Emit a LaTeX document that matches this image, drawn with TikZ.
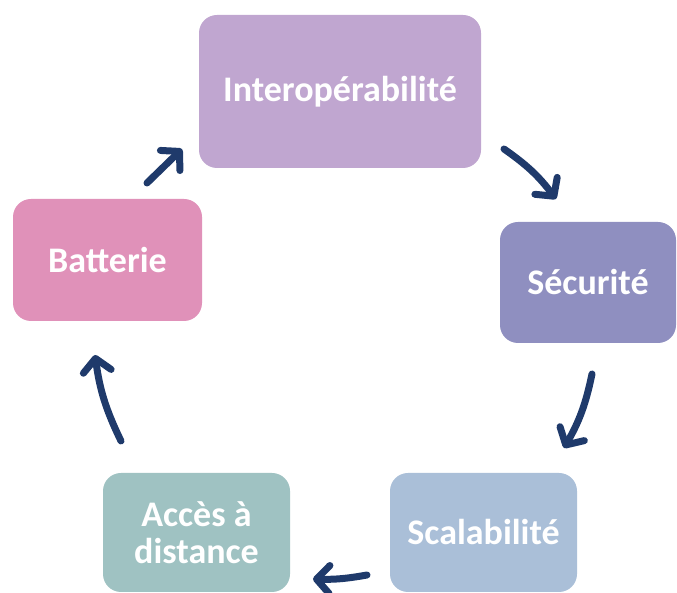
\documentclass[tikz,border=0pt]{standalone}
\usepackage{fontspec}
\setmainfont{Carlito}
\usetikzlibrary{arrows.meta}

\definecolor{cInterop}{HTML}{C0A6D0}
\definecolor{cSecu}{HTML}{8F8FC0}
\definecolor{cScal}{HTML}{AABFD8}
\definecolor{cAcces}{HTML}{9FC2C2}
\definecolor{cBatt}{HTML}{E091B9}
\definecolor{cArrow}{HTML}{1F3A6B}

\begin{document}
\begin{tikzpicture}[x=1pt, y=1pt,
  card/.style={rounded corners=18pt, inner sep=0pt, align=center,
    text=white, font=\fontsize{36}{37}\selectfont\bfseries},
  flow/.style={draw=cArrow, line width=7pt, line cap=round,
    -{Straight Barb[length=13pt, width=28pt, round]}}
]
\useasboundingbox (0,0) rectangle (677,593);

% the five cards
\node[card, fill=cInterop, minimum width=282pt, minimum height=153pt] (interop) at (340,501.5) {Interopérabilité};
\node[card, fill=cSecu, minimum width=176pt, minimum height=121pt] (secu) at (588,310.5) {Sécurité};
\node[card, fill=cScal, minimum width=187pt, minimum height=119pt] (scal) at (483.5,60.5) {Scalabilité};
\node[card, fill=cAcces, minimum width=187pt, minimum height=119pt] (acces) at (196.5,60.5) {Accès à\\distance};
\node[card, fill=cBatt, minimum width=189pt, minimum height=122pt] (batt) at (107.5,333) {Batterie};

% arrow end points around the cycle
\coordinate (a1s) at (147,410);
\coordinate (a1e) at (182,444);
\coordinate (a2s) at (504,444);
\coordinate (a2e) at (556,394);
\coordinate (a3s) at (592,219);
\coordinate (a3e) at (564,145);
\coordinate (a4s) at (367,18);
\coordinate (a4e) at (313,14);
\coordinate (a5s) at (121,152);
\coordinate (a5e) at (95,238);

\draw[flow] (a1s) -- (a1e);
\draw[flow] (a2s) to[bend left=9] (a2e);
\draw[flow] (a3s) to[bend left=9] (a3e);
\draw[flow] (a4s) to[bend left=6] (a4e);
\draw[flow] (a5s) to[bend left=9] (a5e);
\end{tikzpicture}
\end{document}
